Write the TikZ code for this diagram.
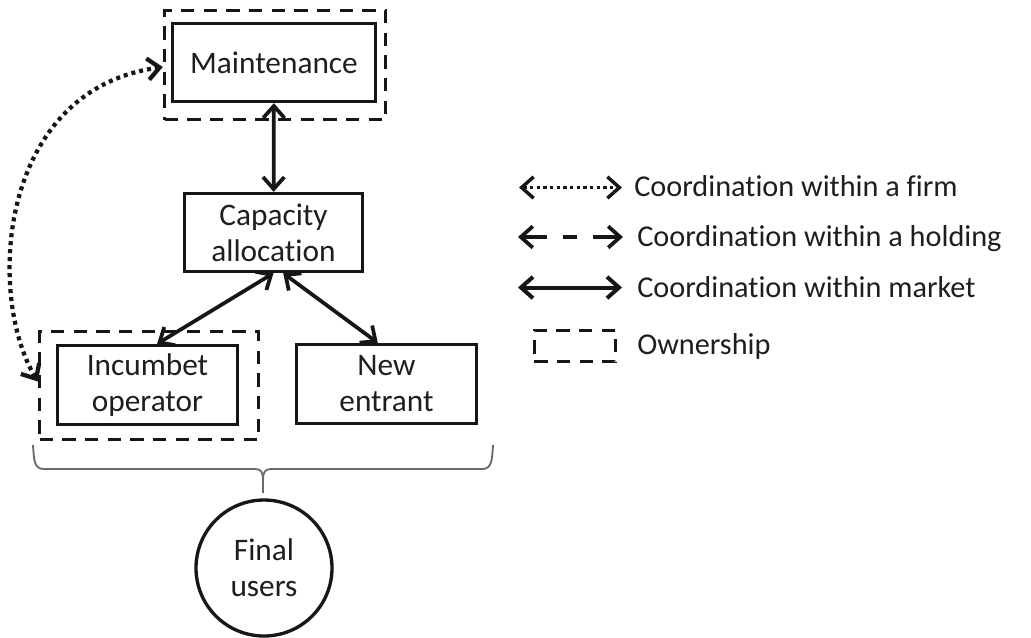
\documentclass[tikz,border=0pt]{standalone}
\usepackage{fontspec}
\setmainfont{Carlito}[Ligatures={NoCommon,NoContextual}]
\usetikzlibrary{arrows.meta,calc}
\definecolor{ink}{HTML}{161616}
\definecolor{txt}{HTML}{1E1E1E}
\definecolor{bracegray}{HTML}{6A6A6A}
\begin{document}
\begin{tikzpicture}[x=0.75pt,y=-0.75pt,
  font=\fontsize{23.5}{27}\selectfont, text=txt,
  >={Straight Barb[length=9pt,width=16pt]},
  box/.style={draw=ink, line width=2.5pt, align=center, inner sep=0pt},
  own/.style={draw=ink, line width=2.5pt, dash pattern=on 10pt off 7pt},
  link/.style={draw=ink, line width=2.8pt, <->},
  firm/.style={draw=ink, line width=3.2pt, dash pattern=on 3pt off 3pt, <->},
  holding/.style={draw=ink, line width=2.8pt, dash pattern=on 18pt off 12pt on 10.5pt off 12pt on 40pt, <->},
  keytext/.style={anchor=west, inner sep=0pt, text height=0.75em, text depth=0.25em,
                  font=\fontsize{22.7}{26}\selectfont},
  brace/.style={draw=bracegray, line width=1.4pt}]
\useasboundingbox (0,0) rectangle (1031,637);

% ownership frames
\node[own, minimum width=165.75pt, minimum height=81.75pt] (maintOwn) at (275,65) {};
\node[own, minimum width=164.25pt, minimum height=81pt] (incOwn) at (149,385.5) {};

% actors
\node[box, minimum width=152.25pt, minimum height=58.5pt] (maint) at (274,62.5) {Maintenance};
\node[box, minimum width=133.5pt, minimum height=58.5pt] (cap) at (273.5,232.5) {Capacity\\allocation};
\node[box, minimum width=135pt, minimum height=59.25pt] (inc) at (147.5,385) {Incumbet\\operator};
\node[box, minimum width=135pt, minimum height=59.25pt] (newe) at (386.5,384) {New\\entrant};
\node[draw=ink, line width=2.5pt, circle, minimum size=102pt, inner sep=0pt, align=center] (users) at (264,568) {Final\\users};

% market coordination
\draw[link] (maint) -- (cap);
\draw[link] (cap.south) -- ($(inc.north)!0.105!(inc.north east)$);
\draw[link] ($(cap.south)!0.107!(cap.south east)$) -- ($(newe.north)!0.095!(newe.north west)$);

% coordination within the firm
\draw[firm] ([yshift=3pt]incOwn.west) .. controls (-14,295) and (-2,90) .. ([yshift=-1.5pt]maintOwn.west);

% brace gathering the operators towards the final users
\draw[brace] (33,445) .. controls (34,460) and (34,469) .. (44,469) -- (255,469)
  .. controls (261,469) and (263,472) .. (263,480) -- (263,493) -- (263,480)
  .. controls (263,472) and (265,469) .. (271,469) -- (482,469)
  .. controls (492,469) and (492,460) .. (493,445);

% key
\coordinate (k1a) at (519,187.5); \coordinate (k1b) at (622,187.5);
\coordinate (k2a) at (518,237);   \coordinate (k2b) at (623,237);
\coordinate (k3a) at (518,287.5); \coordinate (k3b) at (622,287.5);
\draw[firm, line width=2.6pt, dash pattern=on 2.6pt off 2.4pt] (k1a) -- (k1b);
\draw[holding] (k2a) -- (k2b);
\draw[link, line width=3pt] (k3a) -- (k3b);
\node[own, minimum width=61pt, minimum height=23.5pt] (k4) at (575,346) {};
\node[keytext] (t1) at (634,193) {Coordination within a firm};
\node[keytext] (t2) at (637,243) {Coordination within a holding};
\node[keytext] (t3) at (637,294) {Coordination within market};
\node[keytext] (t4) at (637,351) {Ownership};
\end{tikzpicture}
\end{document}
